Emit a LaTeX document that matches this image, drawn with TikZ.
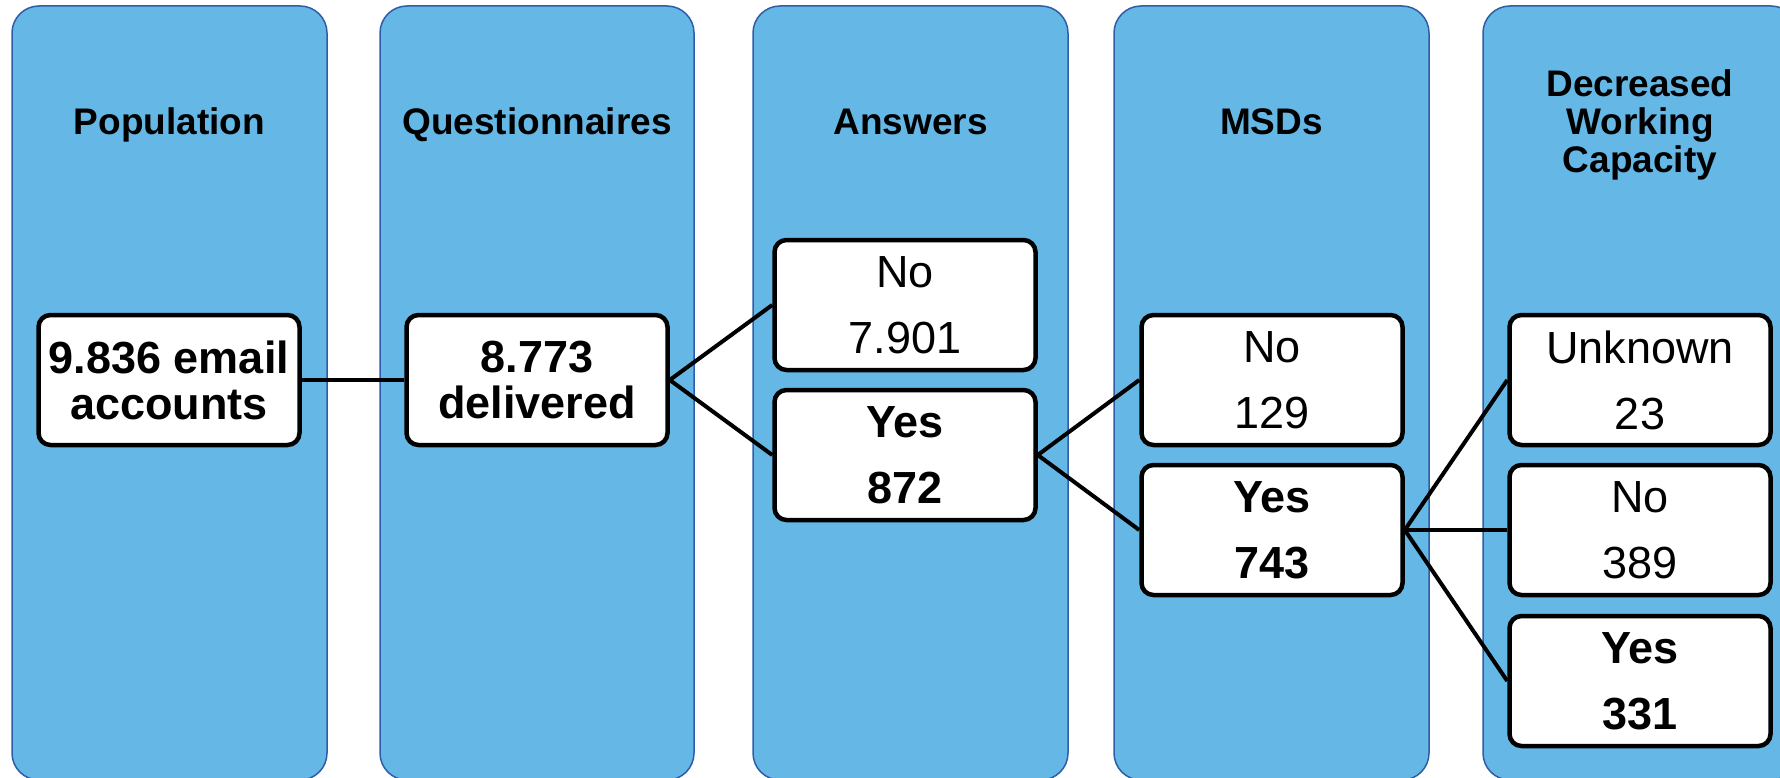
\documentclass[tikz,border=0pt]{standalone}
\usepackage{fontspec}
\setmainfont{Liberation Sans}
\definecolor{colfill}{RGB}{101,184,230}
\definecolor{colline}{RGB}{46,92,166}
\begin{document}
\begin{tikzpicture}[x=1pt,y=-1pt,
  column/.style={fill=colfill,draw=colline,line width=1.5pt,rounded corners=27pt},
  box/.style={draw=black,fill=white,line width=4.5pt,rounded corners=12pt,minimum width=261pt,minimum height=130pt,inner sep=0pt,align=center,font=\fontsize{45}{66}\selectfont},
  boldbox/.style={box,font=\fontsize{45}{66}\selectfont\bfseries},
  tightbox/.style={box,font=\fontsize{45}{46}\selectfont\bfseries},
  title/.style={align=center,inner sep=0pt,text depth=0pt,font=\fontsize{37}{38}\selectfont\bfseries},
  link/.style={line width=4pt}]
\useasboundingbox (0,0) rectangle (1780,778);
\clip (0,0) rectangle (1780,778);
% columns
\draw[column] (12,6) rectangle (327,780);
\draw[column] (380,6) rectangle (694,780);
\draw[column] (753,6) rectangle (1068,780);
\draw[column] (1114,6) rectangle (1429,780);
\draw[column] (1483,6) rectangle (1798,780);
% titles
\node[title] (t1) at (169.5,121.5) {Population};
\node[title] (t2) at (537,121.5) {Questionnaires};
\node[title] (t3) at (910.5,121.5) {Answers};
\node[title] (t4) at (1271.5,121.5) {MSDs};
\node[title] (t5) at (1640,121.5) {Decreased\\Working\\Capacity};
% boxes
\node[tightbox] (pop) at (169,380) {9.836 email\\accounts};
\node[tightbox] (del) at (537,380) {8.773\\delivered};
\node[box] (ano) at (905,305) {No\\7.901};
\node[boldbox] (ayes) at (905,455) {Yes\\872};
\node[box] (mno) at (1272,380) {No\\129};
\node[boldbox] (myes) at (1272,530) {Yes\\743};
\node[box] (dunk) at (1640,380) {Unknown\\23};
\node[box] (dno) at (1640,530) {No\\389};
\node[boldbox] (dyes) at (1640,681) {Yes\\331};
% connectors
\draw[link] (pop.east) -- (del.west);
\draw[link] (del.east) -- (ano.west);
\draw[link] (del.east) -- (ayes.west);
\draw[link] (ayes.east) -- (mno.west);
\draw[link] (ayes.east) -- (myes.west);
\draw[link] (myes.east) -- (dunk.west);
\draw[link] (myes.east) -- (dno.west);
\draw[link] (myes.east) -- (dyes.west);
\end{tikzpicture}
\end{document}
